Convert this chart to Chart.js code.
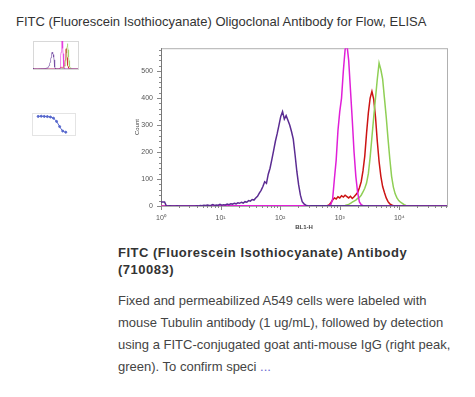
<!DOCTYPE html>
<html>
<head>
<meta charset="utf-8">
<script src="https://cdn.jsdelivr.net/npm/chart.js@4.4.1/dist/chart.umd.min.js"></script>
<style>
  body { margin: 0; background: #fff; font-family: "Liberation Sans", Arial, sans-serif; color: #333; }
  .abs { position: absolute; }
  #title { left: 16px; top: 14px; font-size: 13px; line-height: 15px; white-space: nowrap; color: #333; }
  #heading { left: 118px; top: 244px; width: 340px; font-size: 13px; line-height: 17px; font-weight: bold; letter-spacing: 0.5px; color: #333; }
  #desc { left: 118px; top: 290px; width: 350px; font-size: 13px; line-height: 22px; color: #444; }
  #desc .more { color: #6a6ad0; }
</style>
</head>
<body>
<div id="title" class="abs">FITC (Fluorescein Isothiocyanate) Oligoclonal Antibody for Flow, ELISA</div>

<div class="abs" style="left:26px;top:36px;width:56px;height:38px"><canvas id="thumb1" width="56" height="38"></canvas></div>
<div class="abs" style="left:26px;top:108px;width:54px;height:32px"><canvas id="thumb2" width="54" height="32"></canvas></div>

<div class="abs" style="left:120px;top:36px;width:340px;height:200px"><canvas id="flow" width="340" height="200"></canvas></div>

<div id="heading" class="abs">FITC (Fluorescein Isothiocyanate) Antibody<br>(710083)</div>
<div id="desc" class="abs">Fixed and permeabilized A549 cells were labeled with<br>mouse Tubulin antibody (1 ug/mL), followed by detection<br>using a FITC-conjugated goat anti-mouse IgG (right peak,<br>green). To confirm speci <span class="more">...</span></div>

<script>
// Histogram channels are spaced 0.03 decades apart (log10 of BL1-H)
const binStep = 0.03;
const xMaxLog = 4.8;
const yMaxCount = 585;

// Purple histogram (counts), first channel at log 0
const purpleStart = 0;
const purpleCounts = [15, 15, 15, 0, 0, 1, 0, 0, 0, 1, 0, 0, 0, 0, 0, 0, 0, 0, 0, 0, 1, 0,
  2, 1, 3, 2, 4, 2, 3, 5, 2, 4, 3, 6, 3, 5, 4, 7, 5, 8,
  7, 10, 8, 12, 10, 14, 11, 16, 14, 20, 18, 24, 22, 30, 36, 48, 58, 72, 90, 84,
  118, 140, 172, 205, 240, 268, 300, 332, 350, 322, 335, 318, 300, 276, 248, 190,
  128, 78, 40, 16, 8, 3, 1, 0, 1];

// Magenta histogram
const magentaStart = 2.82;
const magentaCounts = [2, 6, 25, 100, 170, 280, 350, 400, 500, 580, 600, 540, 430, 320, 200, 110, 50, 15, 5, 1];

// Green histogram (right peak)
const greenStart = 3.06;
const greenCounts = [1, 2, 4, 6, 10, 14, 18, 22, 28, 32, 40, 52, 66, 85, 120, 180, 255, 330, 400, 470, 530,
  505, 470, 400, 330, 250, 175, 110, 70, 45, 30, 20, 14, 10, 5, 2, 0];

// Red histogram
const redStart = 2.79;
const redCounts = [1, 4, 12, 22, 30, 26, 34, 30, 38, 33, 40, 35, 30, 36, 28, 34, 42, 50, 68, 90, 130, 185,
  270, 345, 400, 425, 395, 330, 240, 165, 110, 72, 50, 30, 16, 8, 4, 1];

// Axis ticks
const xDecades = [0, 1, 2, 3, 4];
const xTickLabels = ["10\u2070", "10\u00B9", "10\u00B2", "10\u00B3", "10\u2074"];
const yTicks = [0, 100, 200, 300, 400, 500];

// Thumbnail 2 (dose response)
const doseX = [2, 3, 4, 5, 6, 7, 8, 9, 10, 11];
const doseY = [0.93, 0.94, 0.93, 0.92, 0.9, 0.84, 0.68, 0.42, 0.2, 0.14];

// Turn channel counts into points, with zero baseline at both axis ends
function toPoints(start, counts) {
  const pts = [{ x: 0, y: 0 }];
  counts.forEach((c, i) => pts.push({ x: +(start + i * binStep).toFixed(3), y: c }));
  pts.push({ x: xMaxLog, y: 0 });
  if (start === 0) pts.shift();
  return pts;
}

const seriesList = [
  { label: "purple", color: "#5b2c92", pts: toPoints(purpleStart, purpleCounts) },
  { label: "magenta", color: "#e01fd8", pts: toPoints(magentaStart, magentaCounts) },
  { label: "green", color: "#8fcf55", pts: toPoints(greenStart, greenCounts) },
  { label: "red", color: "#cc1414", pts: toPoints(redStart, redCounts) },
];

// Frame + minor tick marks
const framePlugin = {
  id: "frame",
  beforeDatasetsDraw(chart, args, opts) {
    const { ctx, chartArea: a } = chart;
    ctx.save();
    ctx.strokeStyle = opts.boxColor || "#aaa";
    ctx.lineWidth = 1;
    ctx.strokeRect(a.left + 0.5, a.top + 0.5, a.right - a.left, a.bottom - a.top);
    if (opts.ticks) {
      const xs = chart.scales.x, ys = chart.scales.y;
      ctx.strokeStyle = "#777";
      ctx.beginPath();
      ctx.moveTo(a.left + 0.5, a.top);
      ctx.lineTo(a.left + 0.5, a.bottom + 1);
      ctx.stroke();
      ctx.strokeStyle = "#888";
      ctx.beginPath();
      for (let v = 0; v <= yMaxCount; v += 20) {
        const y = Math.round(ys.getPixelForValue(v)) + 0.5;
        const len = v % 100 === 0 ? 4 : 2;
        ctx.moveTo(a.left - len, y);
        ctx.lineTo(a.left, y);
      }
      for (let d = 0; d < 5; d++) {
        for (let k = 1; k <= 9; k++) {
          const lv = d + Math.log10(k);
          if (lv > xMaxLog) break;
          const x = Math.round(xs.getPixelForValue(lv)) + 0.5;
          const len = k === 1 ? 4 : 2;
          ctx.moveTo(x, a.bottom);
          ctx.lineTo(x, a.bottom + len);
        }
      }
      ctx.stroke();
    }
    ctx.restore();
  },
};

function flowDatasets(width, alpha) {
  return seriesList.map((s) => ({
    label: s.label,
    data: s.pts,
    borderColor: s.color + (alpha || ""),
    borderWidth: width,
    pointRadius: 0,
    tension: 0,
    fill: false,
  }));
}

new Chart(document.getElementById("flow"), {
  type: "line",
  data: { datasets: flowDatasets(1.5) },
  options: {
    responsive: false,
    animation: false,
    devicePixelRatio: 1,
    layout: { padding: { top: 7, right: 13, left: 0, bottom: 0 } },
    plugins: { legend: { display: false }, tooltip: { enabled: false }, frame: { ticks: true, boxColor: "#b0b0b0" } },
    scales: {
      x: {
        type: "linear",
        min: 0,
        max: xMaxLog,
        afterFit: (s) => { s.height = 30; },
        afterBuildTicks: (s) => { s.ticks = xDecades.map((v) => ({ value: v })); },
        ticks: {
          font: { size: 7, family: "Liberation Sans" },
          color: "#555",
          padding: 8,
          maxRotation: 0,
          callback: (v) => xTickLabels[xDecades.indexOf(v)],
        },
        grid: { display: false, drawTicks: false },
        border: { display: false },
        title: { display: true, text: "BL1-H", font: { size: 6, weight: "bold", family: "Liberation Sans" }, color: "#444", padding: { top: 2, bottom: 5 } },
      },
      y: {
        min: 0,
        max: yMaxCount,
        afterFit: (s) => { s.width = 41; },
        afterBuildTicks: (s) => { s.ticks = yTicks.map((v) => ({ value: v })); },
        ticks: { font: { size: 7, family: "Liberation Sans" }, color: "#555", padding: 8 },
        grid: { display: false, drawTicks: false },
        border: { display: false },
        title: { display: true, text: "Count", font: { size: 6, family: "Liberation Sans" }, color: "#444", padding: { top: 14, bottom: 0 } },
      },
    },
  },
  plugins: [framePlugin],
});

// Thumbnail of the same histogram
new Chart(document.getElementById("thumb1"), {
  type: "line",
  data: { datasets: flowDatasets(0.8, "aa") },
  options: {
    responsive: false,
    animation: false,
    devicePixelRatio: 1,
    layout: { padding: { top: 5, right: 4, left: 7, bottom: 5 } },
    plugins: { legend: { display: false }, tooltip: { enabled: false }, frame: { boxColor: "#d8d8d8" } },
    scales: {
      x: { type: "linear", min: 0, max: xMaxLog, display: false },
      y: { min: 0, max: yMaxCount, display: false },
    },
  },
  plugins: [framePlugin],
});

// Thumbnail of the dose response curve
new Chart(document.getElementById("thumb2"), {
  type: "line",
  data: {
    datasets: [{
      data: doseX.map((x, i) => ({ x, y: doseY[i] })),
      borderColor: "#5566cc",
      backgroundColor: "#5566cc",
      borderWidth: 1,
      pointRadius: 1,
      tension: 0.3,
    }],
  },
  options: {
    responsive: false,
    animation: false,
    devicePixelRatio: 1,
    layout: { padding: { top: 4, right: 2, left: 6, bottom: 5 } },
    plugins: { legend: { display: false }, tooltip: { enabled: false }, frame: { boxColor: "#e4e4e4" } },
    scales: {
      x: { type: "linear", min: 0, max: 14, display: false },
      y: { min: 0, max: 1.1, display: false },
    },
  },
  plugins: [framePlugin],
});
</script>
</body>
</html>
